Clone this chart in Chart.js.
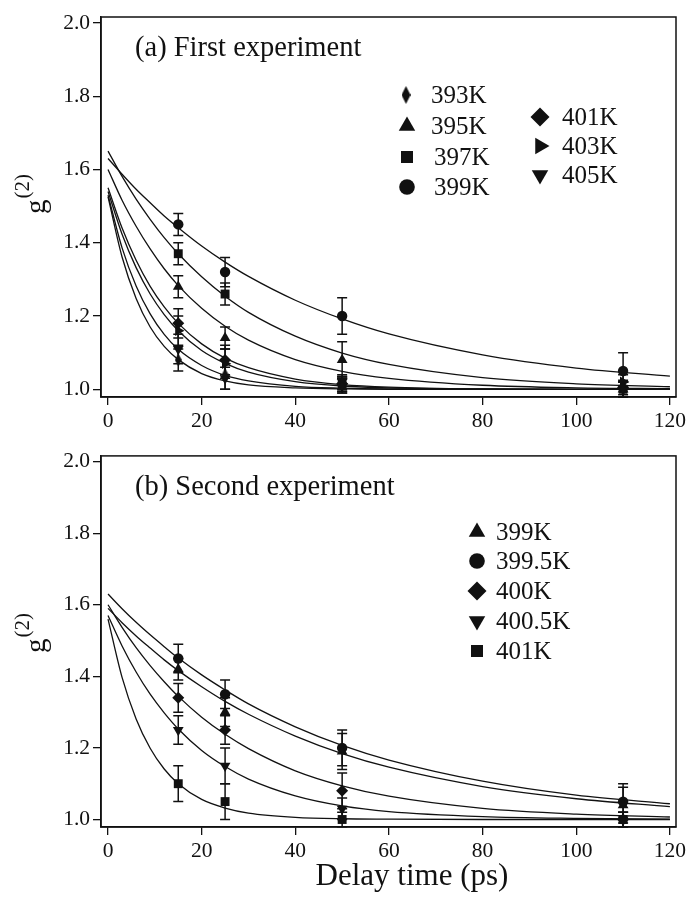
<!DOCTYPE html>
<html>
<head>
<meta charset="utf-8">
<script src="https://cdn.jsdelivr.net/npm/chart.js@4.4.0/dist/chart.umd.min.js"></script>
<style>
  body { margin: 0; background: #fff; }
  canvas { position: absolute; left: 0; }
</style>
</head>
<body>
<canvas id="chartA" width="691" height="440" style="top:0px"></canvas>
<canvas id="chartB" width="691" height="460" style="top:440px"></canvas>
<script>
// delay times of the measured points and of the fit curves (ps)
const delays = [15, 25, 50, 110];
const fitTimes = [0, 3, 6, 9, 12, 15, 20, 25, 30, 40, 50, 60, 80, 100, 120];
const xTicks = [0, 20, 40, 60, 80, 100, 120];
const yTicks = [1.0, 1.2, 1.4, 1.6, 1.8, 2.0];

// (a) first experiment
const labelsA = ['393K', '395K', '397K', '399K', '401K', '403K', '405K'];
const a393 = [1.08, 1.04, 1.01, 1.00];
const a395 = [1.28, 1.14, 1.08, 1.00];
const a397 = [1.37, 1.26, 1.01, 1.00];
const a399 = [1.45, 1.32, 1.20, 1.05];
const a401 = [1.18, 1.08, 1.015, 1.005];
const a403 = [1.16, 1.07, 1.015, 1.02];
const a405 = [1.11, 1.03, 1.02, 1.00];
const errA393 = [0.03, 0.04, 0.02, 0.02];
const errA395 = [0.03, 0.03, 0.05, 0.02];
const errA397 = [0.03, 0.03, 0.02, 0.02];
const errA399 = [0.03, 0.04, 0.05, 0.05];
const errA401 = [0.04, 0.04, 0.02, 0.02];
const errA403 = [0.04, 0.04, 0.02, 0.02];
const errA405 = [0.04, 0.03, 0.02, 0.02];
const fitA393 = [1.525, 1.361, 1.248, 1.170, 1.117, 1.081, 1.043, 1.023, 1.012, 1.004, 1.001, 1.000, 1.000, 1.000, 1.000];
const fitA395 = [1.600, 1.516, 1.445, 1.383, 1.329, 1.283, 1.221, 1.172, 1.134, 1.081, 1.049, 1.030, 1.011, 1.004, 1.002];
const fitA397 = [1.650, 1.581, 1.519, 1.464, 1.414, 1.370, 1.307, 1.254, 1.210, 1.145, 1.099, 1.068, 1.032, 1.015, 1.007];
const fitA399 = [1.630, 1.587, 1.546, 1.509, 1.473, 1.441, 1.391, 1.347, 1.308, 1.243, 1.192, 1.151, 1.094, 1.058, 1.036];
const fitA401 = [1.550, 1.440, 1.352, 1.281, 1.225, 1.180, 1.124, 1.085, 1.059, 1.028, 1.013, 1.006, 1.001, 1.000, 1.000];
const fitA403 = [1.540, 1.423, 1.332, 1.260, 1.204, 1.160, 1.106, 1.071, 1.047, 1.021, 1.009, 1.004, 1.001, 1.000, 1.000];
const fitA405 = [1.530, 1.386, 1.282, 1.206, 1.150, 1.109, 1.065, 1.038, 1.023, 1.008, 1.003, 1.001, 1.000, 1.000, 1.000];

// (b) second experiment
const labelsB = ['399K', '399.5K', '400K', '400.5K', '401K'];
const b399 = [1.42, 1.30, 1.19, 1.04];
const b3995 = [1.45, 1.35, 1.20, 1.05];
const b400 = [1.34, 1.25, 1.08, 1.00];
const b4005 = [1.25, 1.15, 1.03, 1.00];
const b401 = [1.10, 1.05, 1.00, 1.00];
const errB399 = [0.03, 0.04, 0.05, 0.05];
const errB3995 = [0.04, 0.04, 0.05, 0.05];
const errB400 = [0.04, 0.04, 0.05, 0.02];
const errB4005 = [0.04, 0.05, 0.03, 0.02];
const errB401 = [0.05, 0.05, 0.02, 0.02];
const fitB399 = [1.590, 1.550, 1.513, 1.479, 1.446, 1.416, 1.371, 1.330, 1.294, 1.233, 1.184, 1.146, 1.092, 1.058, 1.036];
const fitB3995 = [1.630, 1.589, 1.551, 1.516, 1.483, 1.451, 1.404, 1.362, 1.323, 1.259, 1.207, 1.166, 1.107, 1.068, 1.044];
const fitB400 = [1.600, 1.537, 1.480, 1.430, 1.385, 1.344, 1.286, 1.238, 1.198, 1.136, 1.094, 1.065, 1.031, 1.015, 1.007];
const fitB4005 = [1.570, 1.485, 1.412, 1.350, 1.298, 1.253, 1.193, 1.148, 1.113, 1.066, 1.038, 1.022, 1.008, 1.003, 1.001];
const fitB401 = [1.560, 1.397, 1.281, 1.199, 1.141, 1.100, 1.056, 1.032, 1.018, 1.006, 1.002, 1.001, 1.000, 1.000, 1.000];

const INK = '#111';
const SERIF = '"Liberation Serif", "Times New Roman", serif';

// narrow diamond used for 393K
function thinDiamond(w, h) {
  const c = document.createElement('canvas');
  c.width = w; c.height = h;
  const g = c.getContext('2d');
  g.fillStyle = INK;
  g.beginPath();
  g.moveTo(w / 2, 0); g.lineTo(w, h / 2); g.lineTo(w / 2, h); g.lineTo(0, h / 2);
  g.closePath(); g.fill();
  return c;
}
const thinSmall = thinDiamond(7, 13);
const thinBig = thinDiamond(9, 18);

// marker styles: [pointStyle, radius, rotation] for data and legend
const styles = {
  thin:  { data: [thinSmall, 5, 0], legend: [thinBig, 8, 0] },
  tri:   { data: ['triangle', 6.2, 0], legend: ['triangle', 9.5, 0] },
  rect:  { data: ['rect', 6.3, 0], legend: ['rect', 8.5, 0] },
  circ:  { data: ['circle', 5.2, 0], legend: ['circle', 7.8, 0] },
  diam:  { data: ['rectRot', 6, 0], legend: ['rectRot', 9.5, 0] },
  right: { data: ['triangle', 6.2, 90], legend: ['triangle', 9.5, 90] },
  down:  { data: ['triangle', 6.2, 180], legend: ['triangle', 9.5, 180] }
};

function pts(xs, ys) { return xs.map((x, i) => ({ x: x, y: ys[i] })); }

function buildSets(series) {
  const sets = [];
  series.forEach(s => {
    sets.push({
      data: pts(fitTimes, s.fit), showLine: true, pointRadius: 0,
      borderColor: INK, borderWidth: 1.3, cubicInterpolationMode: 'monotone', order: 2
    });
  });
  series.forEach(s => {
    const st = styles[s.style].data;
    sets.push({
      data: pts(delays, s.vals), errors: s.err, showLine: false,
      pointStyle: st[0], pointRadius: st[1], rotation: st[2],
      backgroundColor: INK, borderColor: INK, borderWidth: 0, order: 1
    });
  });
  return sets;
}

const panelPlugin = {
  id: 'panel',
  beforeDatasetsDraw(chart) {
    const ctx = chart.ctx, xs = chart.scales.x, ys = chart.scales.y;
    ctx.save();
    ctx.strokeStyle = INK; ctx.lineWidth = 1.5;
    chart.data.datasets.forEach(ds => {
      if (!ds.errors) return;
      ds.data.forEach((p, i) => {
        const px = xs.getPixelForValue(p.x);
        const y1 = ys.getPixelForValue(p.y + ds.errors[i]);
        const y2 = ys.getPixelForValue(p.y - ds.errors[i]);
        ctx.beginPath();
        ctx.moveTo(px, y1); ctx.lineTo(px, y2);
        ctx.moveTo(px - 5, y1); ctx.lineTo(px + 5, y1);
        ctx.moveTo(px - 5, y2); ctx.lineTo(px + 5, y2);
        ctx.stroke();
      });
    });
    ctx.restore();
  },
  afterDraw(chart, args, opts) {
    const ctx = chart.ctx, a = chart.chartArea;
    ctx.save();
    ctx.strokeStyle = INK; ctx.lineWidth = 1.5;
    ctx.strokeRect(a.left, a.top, a.right - a.left, a.bottom - a.top);
    ctx.fillStyle = INK;
    // panel caption
    ctx.font = '28.5px ' + SERIF;
    ctx.textBaseline = 'alphabetic';
    ctx.fillText(opts.caption, 135, a.top + 39);
    // y title g^(2)
    ctx.save();
    ctx.translate(45, a.top + 197);
    ctx.rotate(-Math.PI / 2);
    ctx.font = '29px ' + SERIF;
    ctx.fillText('g', 0, 0);
    const gw = ctx.measureText('g').width;
    ctx.font = '21px ' + SERIF;
    ctx.fillText('(2)', gw + 1, -16);
    ctx.restore();
    // x title (bottom panel only)
    if (opts.xTitle) {
      ctx.font = '31px ' + SERIF;
      ctx.textAlign = 'center';
      ctx.textBaseline = 'middle';
      ctx.fillText(opts.xTitle, 412, a.bottom + 50);
      ctx.textAlign = 'left';
    }
    // legend
    ctx.font = '25px ' + SERIF;
    ctx.textBaseline = 'middle';
    opts.legend.forEach(e => {
      const st = styles[e.style].legend;
      Chart.helpers.drawPoint(ctx, { pointStyle: st[0], radius: st[1], rotation: st[2], borderWidth: 0 }, e.mx, e.y);
      ctx.fillText(e.label, e.tx, e.y + 1);
    });
    ctx.restore();
  }
};

function makeChart(id, series, caption, legend, pad, xAxisH, xTitle) {
  return new Chart(document.getElementById(id), {
    type: 'scatter',
    data: { datasets: buildSets(series) },
    plugins: [panelPlugin],
    options: {
      responsive: false,
      animation: false,
      events: [],
      layout: { padding: pad },
      plugins: {
        legend: { display: false },
        tooltip: { enabled: false },
        panel: { caption: caption, legend: legend, xTitle: xTitle }
      },
      scales: {
        x: {
          type: 'linear', min: -1.5, max: 121.3,
          afterBuildTicks: s => { s.ticks = xTicks.map(v => ({ value: v })); },
          afterFit: s => { s.height = xAxisH; },
          grid: { drawOnChartArea: false, drawTicks: true, tickLength: 8, color: INK, lineWidth: 1.3 },
          border: { display: true, color: INK, width: 1.5 },
          ticks: { color: INK, font: { family: SERIF, size: 21.5 }, padding: 3, maxRotation: 0 }
        },
        y: {
          type: 'linear', min: 0.979, max: 2.016,
          afterBuildTicks: s => { s.ticks = yTicks.map(v => ({ value: v })); },
          afterFit: s => { s.width = 101; },
          grid: { drawOnChartArea: false, drawTicks: true, tickLength: 8, color: INK, lineWidth: 1.3 },
          border: { display: true, color: INK, width: 1.5 },
          ticks: { color: INK, font: { family: SERIF, size: 21.5 }, padding: 3, callback: v => v.toFixed(1) }
        }
      }
    }
  });
}

makeChart('chartA', [
  { fit: fitA393, vals: a393, err: errA393, style: 'thin' },
  { fit: fitA395, vals: a395, err: errA395, style: 'tri' },
  { fit: fitA397, vals: a397, err: errA397, style: 'rect' },
  { fit: fitA399, vals: a399, err: errA399, style: 'circ' },
  { fit: fitA401, vals: a401, err: errA401, style: 'diam' },
  { fit: fitA403, vals: a403, err: errA403, style: 'right' },
  { fit: fitA405, vals: a405, err: errA405, style: 'down' }
], '(a) First experiment', [
  { label: labelsA[0], style: 'thin', mx: 406, tx: 431, y: 95 },
  { label: labelsA[1], style: 'tri', mx: 407, tx: 431, y: 126 },
  { label: labelsA[2], style: 'rect', mx: 407, tx: 434, y: 157 },
  { label: labelsA[3], style: 'circ', mx: 407, tx: 434, y: 187 },
  { label: labelsA[4], style: 'diam', mx: 540, tx: 562, y: 117 },
  { label: labelsA[5], style: 'right', mx: 540, tx: 562, y: 146 },
  { label: labelsA[6], style: 'down', mx: 540, tx: 562, y: 175 }
], { left: 0, top: 17, right: 15, bottom: 0 }, 43, null);

makeChart('chartB', [
  { fit: fitB399, vals: b399, err: errB399, style: 'tri' },
  { fit: fitB3995, vals: b3995, err: errB3995, style: 'circ' },
  { fit: fitB400, vals: b400, err: errB400, style: 'diam' },
  { fit: fitB4005, vals: b4005, err: errB4005, style: 'down' },
  { fit: fitB401, vals: b401, err: errB401, style: 'rect' }
], '(b) Second experiment', [
  { label: labelsB[0], style: 'tri', mx: 477, tx: 496, y: 92 },
  { label: labelsB[1], style: 'circ', mx: 477, tx: 496, y: 121 },
  { label: labelsB[2], style: 'diam', mx: 477, tx: 496, y: 151 },
  { label: labelsB[3], style: 'down', mx: 477, tx: 496, y: 181 },
  { label: labelsB[4], style: 'rect', mx: 477, tx: 496, y: 211 }
], { left: 0, top: 4, right: 15, bottom: 0 }, 73, 'Delay time (ps)');
</script>
</body>
</html>
